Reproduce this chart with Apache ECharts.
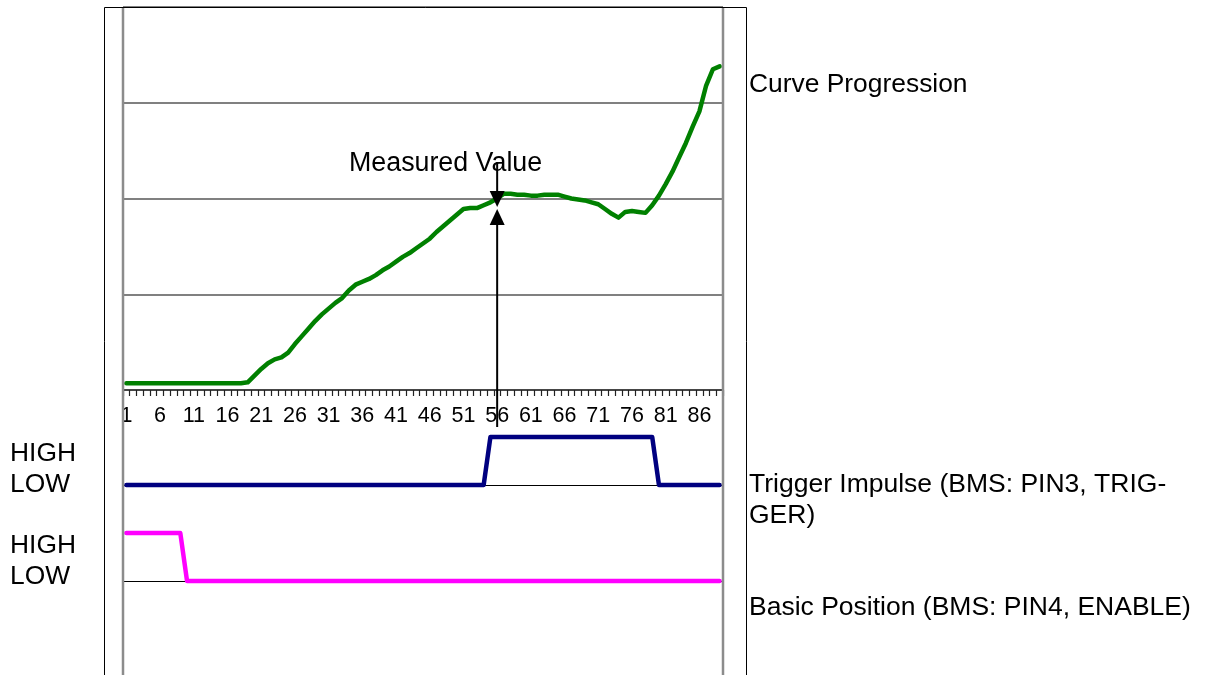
<!DOCTYPE html>
<html>
<head>
<meta charset="utf-8">
<title>Curve Progression</title>
<script src="https://cdn.jsdelivr.net/npm/echarts@6/dist/echarts.min.js"></script>
<style>
  html, body { margin: 0; padding: 0; background: #fff; }
  #chart { width: 1205px; height: 675px; }
</style>
</head>
<body>
<div id="chart"></div>
<script>
// sample numbers 1..89 on the category axis
const categories = Array.from({ length: 89 }, (_, i) => String(i + 1));

// curve progression (one value per sample)
const curveValues = [
  0.07, 0.07, 0.07, 0.07, 0.07, 0.07, 0.07, 0.07, 0.07, 0.07,
  0.07, 0.07, 0.07, 0.07, 0.07, 0.07, 0.07, 0.07, 0.08, 0.15,
  0.22, 0.28, 0.32, 0.34, 0.39, 0.48, 0.56, 0.64, 0.72, 0.79,
  0.85, 0.91, 0.96, 1.04, 1.10, 1.13, 1.16, 1.20, 1.25, 1.29,
  1.34, 1.39, 1.43, 1.48, 1.53, 1.58, 1.65, 1.71, 1.77, 1.83,
  1.89, 1.90, 1.90, 1.93, 1.96, 2.00, 2.05, 2.05, 2.04, 2.04,
  2.03, 2.03, 2.04, 2.04, 2.04, 2.02, 2.00, 1.99, 1.98, 1.96,
  1.94, 1.89, 1.84, 1.80, 1.86, 1.87, 1.86, 1.85, 1.93, 2.03,
  2.15, 2.28, 2.43, 2.58, 2.75, 2.91, 3.18, 3.35, 3.38
];

// trigger impulse, 0 = LOW, 1 = HIGH
const triggerValues = [
  0, 0, 0, 0, 0, 0, 0, 0, 0, 0,
  0, 0, 0, 0, 0, 0, 0, 0, 0, 0,
  0, 0, 0, 0, 0, 0, 0, 0, 0, 0,
  0, 0, 0, 0, 0, 0, 0, 0, 0, 0,
  0, 0, 0, 0, 0, 0, 0, 0, 0, 0,
  0, 0, 0, 0, 1, 1, 1, 1, 1, 1,
  1, 1, 1, 1, 1, 1, 1, 1, 1, 1,
  1, 1, 1, 1, 1, 1, 1, 1, 1, 0,
  0, 0, 0, 0, 0, 0, 0, 0, 0
];

// basic position / enable, 0 = LOW, 1 = HIGH
const enableValues = [
  1, 1, 1, 1, 1, 1, 1, 1, 1, 0,
  0, 0, 0, 0, 0, 0, 0, 0, 0, 0,
  0, 0, 0, 0, 0, 0, 0, 0, 0, 0,
  0, 0, 0, 0, 0, 0, 0, 0, 0, 0,
  0, 0, 0, 0, 0, 0, 0, 0, 0, 0,
  0, 0, 0, 0, 0, 0, 0, 0, 0, 0,
  0, 0, 0, 0, 0, 0, 0, 0, 0, 0,
  0, 0, 0, 0, 0, 0, 0, 0, 0, 0,
  0, 0, 0, 0, 0, 0, 0, 0, 0
];

const measuredCategory = "56"; // where the arrows point

const FONT = "'Liberation Sans', Arial, sans-serif";
const chart = echarts.init(document.getElementById("chart"));

// small x axis for the two signal panels: only a thin base line
function signalXAxis(idx) {
  return {
    gridIndex: idx,
    type: "category",
    data: categories,
    boundaryGap: true,
    axisLine: { lineStyle: { color: "#000", width: 1 } },
    axisTick: { show: false },
    axisLabel: { show: false },
  };
}

function stepSeries(idx, values, color) {
  return {
    type: "line",
    xAxisIndex: idx,
    yAxisIndex: idx,
    data: values,
    symbol: "none",
    clip: false,
    lineStyle: { color: color, width: 4.5, cap: "round", join: "round" },
  };
}

const option = {
  animation: false,
  grid: [
    { left: 123, width: 600, top: 7, height: 383, containLabel: false, outerBoundsMode: "none" },
    { left: 123, width: 600, top: 437, height: 48, containLabel: false, outerBoundsMode: "none" },
    { left: 123, width: 600, top: 533, height: 48, containLabel: false, outerBoundsMode: "none" },
  ],
  xAxis: [
    {
      gridIndex: 0,
      type: "category",
      data: categories,
      boundaryGap: true,
      axisLine: { show: true, lineStyle: { color: "#333", width: 1.5 } },
      axisTick: { show: true, interval: 0, length: 6, inside: false, lineStyle: { color: "#222", width: 1.2 } },
      axisLabel: { interval: 4, color: "#000", fontSize: 21.5, fontFamily: FONT, margin: 15 },
    },
    signalXAxis(1),
    signalXAxis(2),
  ],
  yAxis: [
    {
      gridIndex: 0,
      type: "value",
      min: 0,
      max: 4,
      interval: 1,
      axisLine: { show: false },
      axisTick: { show: false },
      axisLabel: { show: false },
      splitLine: { lineStyle: { color: "#808080", width: 2 } },
    },
    { gridIndex: 1, type: "value", min: 0, max: 1, show: false, splitLine: { show: false } },
    { gridIndex: 2, type: "value", min: 0, max: 1, show: false, splitLine: { show: false } },
  ],
  series: [
    {
      type: "line",
      xAxisIndex: 0,
      yAxisIndex: 0,
      data: curveValues,
      symbol: "none",
      clip: false,
      lineStyle: { color: "#008000", width: 4.5, cap: "round", join: "round" },
    },
    stepSeries(1, triggerValues, "#000080"),
    stepSeries(2, enableValues, "#ff00ff"),
  ],
};
chart.setOption(option);

// frame, labels and the measured value arrows
const ax = chart.convertToPixel({ xAxisIndex: 0 }, measuredCategory);
const txt = (x, y, text, size) => ({
  type: "text",
  x: x,
  y: y,
  z: 10,
  style: {
    text: text,
    fill: "#000",
    font: size + "px " + FONT,
    textVerticalAlign: "middle",
    lineHeight: 31,
  },
});

chart.setOption({
  graphic: [
    {
      type: "polyline",
      z: 5,
      shape: { points: [[104.5, 700], [104.5, 7.5], [746.5, 7.5], [746.5, 700]] },
      style: { stroke: "#000", lineWidth: 1, fill: null },
    },
    { type: "line", z: 5, shape: { x1: 123, y1: 8, x2: 123, y2: 675 }, style: { stroke: "#8c8c8c", lineWidth: 2.5 } },
    { type: "line", z: 5, shape: { x1: 723, y1: 8, x2: 723, y2: 675 }, style: { stroke: "#8c8c8c", lineWidth: 2.5 } },

    // arrows
    { type: "line", z: 10, shape: { x1: ax, y1: 162, x2: ax, y2: 194 }, style: { stroke: "#000", lineWidth: 2 } },
    { type: "polygon", z: 10, shape: { points: [[ax - 7.5, 191], [ax + 7.5, 191], [ax, 207]] }, style: { fill: "#000" } },
    { type: "polygon", z: 10, shape: { points: [[ax - 7.5, 225], [ax + 7.5, 225], [ax, 209]] }, style: { fill: "#000" } },
    { type: "line", z: 10, shape: { x1: ax, y1: 222, x2: ax, y2: 427 }, style: { stroke: "#000", lineWidth: 2 } },

    txt(349, 164, "Measured Value", 26.8),
    txt(749, 85, "Curve Progression", 26.4),
    txt(749, 500, "Trigger Impulse (BMS: PIN3, TRIG-\nGER)", 26.5),
    txt(749, 608, "Basic Position (BMS: PIN4, ENABLE)", 26.5),
    txt(10, 454, "HIGH", 26.4),
    txt(10, 485, "LOW", 26.4),
    txt(10, 546, "HIGH", 26.4),
    txt(10, 577, "LOW", 26.4),
  ],
});
</script>
</body>
</html>
